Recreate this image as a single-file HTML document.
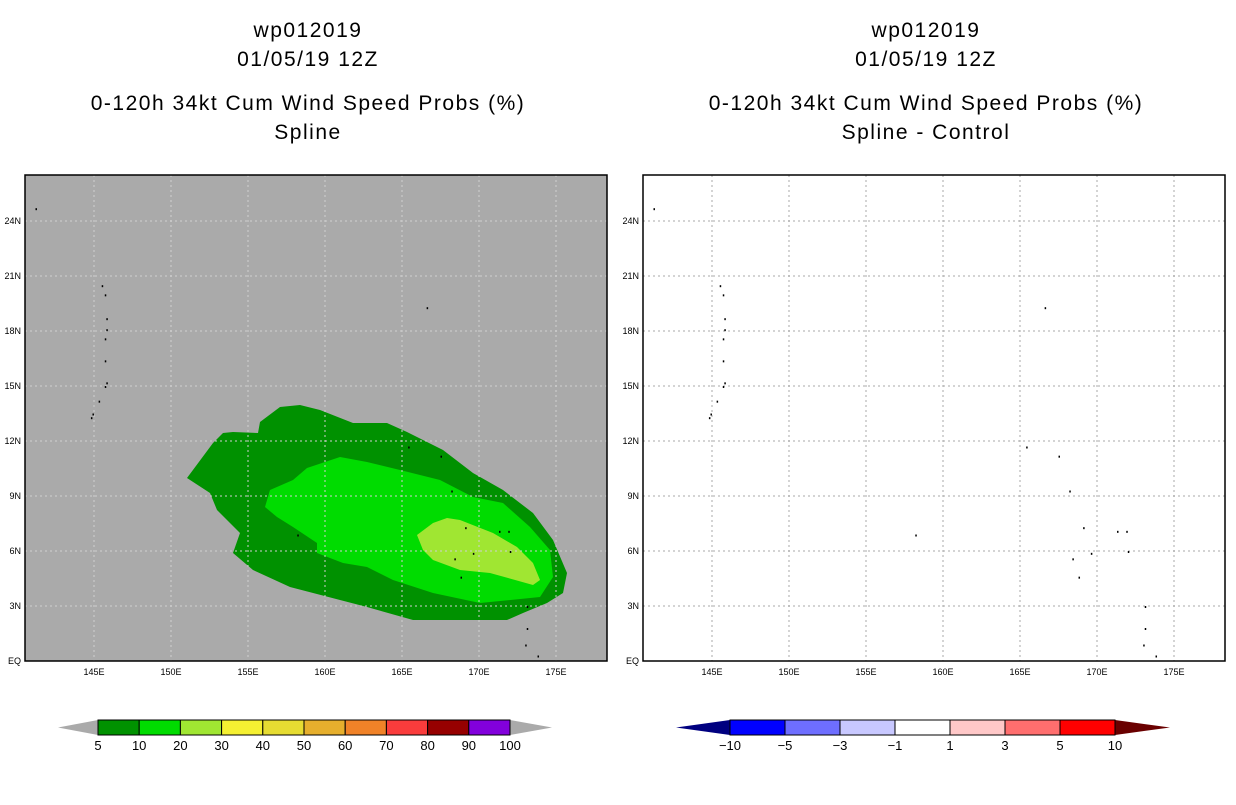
<!DOCTYPE html>
<html><head><meta charset="utf-8"><style>
body{margin:0;background:#fff;}
svg text{font-family:"Liberation Sans",sans-serif;fill:#000;}
.t{font-size:21px;letter-spacing:1.5px;text-anchor:middle}
.tk{font-size:9px;}
.cb{font-size:13px;text-anchor:middle}
</style></head><body>
<svg id="s" width="1236" height="800" xmlns="http://www.w3.org/2000/svg">
<g>
<text class="t" x="308" y="37">wp012019</text>
<text class="t" x="308" y="66">01/05/19 12Z</text>
<text class="t" x="308" y="110">0-120h 34kt Cum Wind Speed Probs (%)</text>
<text class="t" x="308" y="139">Spline</text>
</g>
<g>
<text class="t" x="926" y="37">wp012019</text>
<text class="t" x="926" y="66">01/05/19 12Z</text>
<text class="t" x="926" y="110">0-120h 34kt Cum Wind Speed Probs (%)</text>
<text class="t" x="926" y="139">Spline - Control</text>
</g>
<rect x="25" y="175" width="582" height="486" fill="#aaaaaa"/>
<g>
<polygon fill="#009100" points="187,478 213,443 223,433 233,432 258,433 260,422 280,407 300,405 320,410 353,423 387,423 407,432 443,450 473,473 503,490 533,513 553,540 567,573 563,593 547,603 523,613 507,620 413,620 367,607 340,600 290,587 253,570 233,553 240,533 217,510 210,493"/>
<polygon fill="#00dc00" points="307,468 340,457 367,462 400,470 440,480 473,497 503,503 530,527 550,550 553,577 540,597 480,603 433,593 393,580 367,567 343,563 317,553 317,543 293,527 277,517 265,507 270,490 293,480"/>
<polygon fill="#a0e632" points="417,535 433,523 447,518 460,520 493,533 517,547 533,563 540,580 533,585 490,573 460,570 433,560 423,550"/>
</g>
<g id="lgrid"></g>
<g id="rgrid"></g>
<g id="isl"></g>
<rect x="25" y="175" width="582" height="486" fill="none" stroke="#000" stroke-width="1.5"/>
<rect x="643" y="175" width="582" height="486" fill="none" stroke="#000" stroke-width="1.5"/>
<g id="lax"></g>
<g id="rax"></g>
<g id="lcb"></g>
<g id="rcb"></g>
</svg>
<script>
const lonTicks=[145,150,155,160,165,170,175];
const latTicks=[0,3,6,9,12,15,18,21,24];
const latLabels=["EQ","3N","6N","9N","12N","15N","18N","21N","24N"];
const lonLabels=["145E","150E","155E","160E","165E","170E","175E"];
const leftLevels=["5","10","20","30","40","50","60","70","80","90","100"];
const leftColors=["#009100","#00dc00","#a0e632","#f5f032","#e6dc32","#e6af2d","#f08228","#fa3c3c","#960000","#8200dc"];
const rightLevels=["-10","-5","-3","-1","1","3","5","10"];
const rightColors=["#0000ff","#6e6eff","#c8c8ff","#ffffff","#ffc8c8","#ff6e6e","#ff0000"];
const islands=[[141.2,24.7],[145.5,20.5],[145.7,20],[145.8,18.7],[145.8,18.1],[145.7,17.6],[145.7,16.4],[145.8,15.2],[145.7,15],[145.3,14.2],[144.9,13.5],[144.8,13.3],[166.6,19.3],[165.4,11.7],[167.5,11.2],[168.2,9.3],[171.3,7.1],[171.9,7.1],[169.1,7.3],[169.6,5.9],[168.4,5.6],[172,6],[168.8,4.6],[173.1,3],[173.1,1.8],[173,0.9],[173.8,0.3],[158.2,6.9]];
const NS="http://www.w3.org/2000/svg";
const X=lon=>94+(lon-145)*15.4, Y=lat=>661-lat*18.333;
function mk(tag,attrs,parent){const e=document.createElementNS(NS,tag);for(const k in attrs)e.setAttribute(k,attrs[k]);parent.appendChild(e);return e;}
[[0,'lgrid','#d0d0d0','lax'],[618,'rgrid','#aaaaaa','rax']].forEach(([off,gid,col,aid])=>{
 const g=document.getElementById(gid),a=document.getElementById(aid);
 lonTicks.forEach((lo,i)=>{const x=X(lo)+off;
  const l=mk('line',{x1:x,x2:x,y1:175,y2:661,stroke:col,'stroke-dasharray':'2,3'},g);
  
  
  const t=mk('text',{x:x,y:675,class:'tk','text-anchor':'middle'},a);t.textContent=lonLabels[i];
  
  });
 latTicks.forEach((la,i)=>{const y=Y(la);
  if(la>0){const l=mk('line',{x1:25+off,x2:607+off,y1:y,y2:y,stroke:col,'stroke-dasharray':'2,3'},g);
  
  }
  const t=mk('text',{x:21+off,y:y+3,class:'tk','text-anchor':'end'},a);t.textContent=latLabels[i];
  
  });
 const isl=document.getElementById('isl');
 islands.forEach(([lo,la])=>{const r=mk('rect',{x:X(lo)+off,y:Y(la),width:1.5,height:2,fill:'#000'},isl);
  
  });
});
function cbar(gid,x0,x1,bx0,bx1,colors,levels,lc,rc){
 const g=document.getElementById(gid),y0=720,y1=735,ym=727.5,w=(bx1-bx0)/colors.length;
 const tl=mk('polygon',{points:`${x0},${ym} ${bx0},${y0} ${bx0},${y1}`,fill:lc},g);
 
 
 const tr=mk('polygon',{points:`${x1},${ym} ${bx1},${y0} ${bx1},${y1}`,fill:rc},g);
 
 
 colors.forEach((c,i)=>{const r=mk('rect',{x:bx0+i*w,y:y0,width:w,height:y1-y0,fill:c,stroke:'#000','stroke-width':1},g);
  
  });
 levels.forEach((s,i)=>{const t=mk('text',{x:bx0+i*w,y:750,class:'cb'},g);t.textContent=s.replace('-','\u2212');
  
  });
}
cbar('lcb',58,552,98,510,leftColors,leftLevels,'#aaaaaa','#aaaaaa');
cbar('rcb',676,1170,730,1115,rightColors,rightLevels,'#000080','#6a0000');
</script>
</body></html>
